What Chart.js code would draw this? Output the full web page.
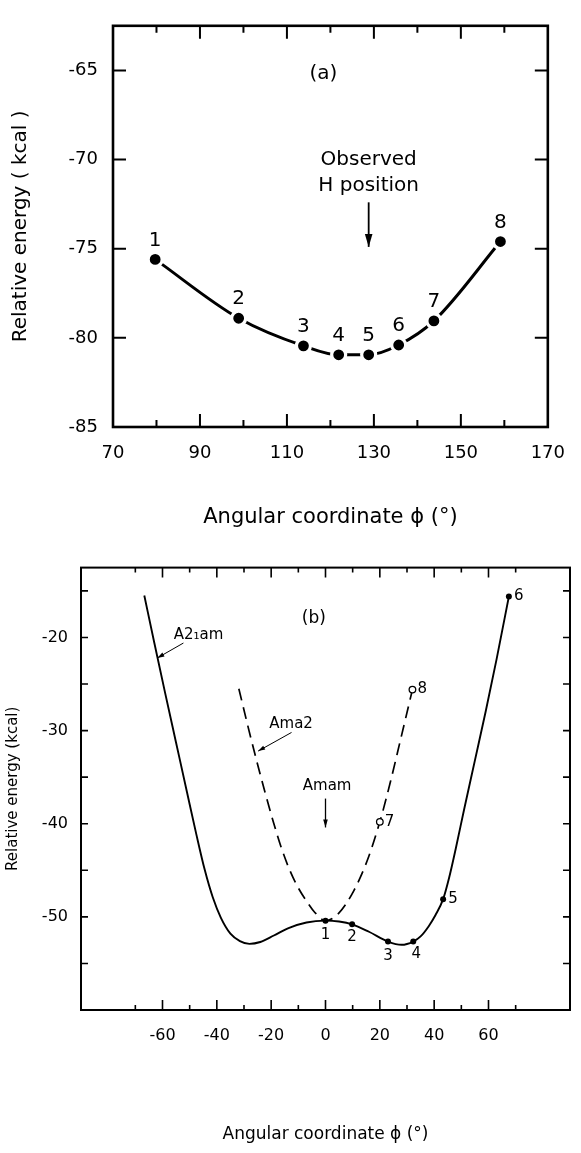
<!DOCTYPE html>
<html><head><meta charset="utf-8">
<script src="https://cdn.jsdelivr.net/npm/chart.js@4.4.0/dist/chart.umd.min.js"></script>
<style>
html,body{margin:0;padding:0;background:#fff;}
body{width:581px;height:1153px;position:relative;overflow:hidden;}
canvas{position:absolute;left:0;}
#ca{top:0;}
#cb{top:545px;}
</style></head><body>
<canvas id="ca" width="581" height="545"></canvas>
<canvas id="cb" width="581" height="608"></canvas>
<script>
// ---------- Panel (a) data ----------
const aPhi = [79.7, 98.9, 113.8, 121.9, 128.8, 135.7, 143.8, 159.1];
const aEnergy = [-75.6, -78.9, -80.45, -80.95, -80.95, -80.4, -79.05, -74.6];
const aPointLabels = ['1', '2', '3', '4', '5', '6', '7', '8'];
const aXTicks = [70, 90, 110, 130, 150, 170];
const aYTicks = [-85, -80, -75, -70, -65];
const aObservedPhi = 128.8;

// ---------- Panel (b) data ----------
const bSolidPhi = [-66.7, -63, -59, -55, -51, -47.5, -44.5, -41.5, -38.5, -35, -31.5, -28, -24, -19, -13.6, -7, 0, 5, 9.8, 16, 23, 28, 32.3, 35, 38, 40.5, 43.3, 45.5, 48, 51, 55, 59, 63, 67.5];
const bSolidEnergy = [-15.5, -20.6, -26.0, -31.3, -36.6, -41.2, -44.9, -47.9, -50.1, -51.8, -52.6, -52.9, -52.7, -52.0, -51.2, -50.6, -50.4, -50.5, -50.8, -51.6, -52.65, -53.0, -52.65, -52.1, -51.0, -49.8, -48.1, -45.8, -42.6, -38.5, -33.2, -27.9, -22.3, -15.6];
const bDashPhi = [-31.9, -28.5, -25.2, -22, -19, -16, -13, -10, -7, -4, 0, 4.9, 10.4, 15.3, 20, 23.9, 27.6, 32];
const bDashEnergy = [-25.5, -29.6, -33.4, -36.9, -40.0, -42.8, -45.1, -46.9, -48.3, -49.5, -50.4, -49.6, -47.2, -44.0, -39.8, -35.5, -31.0, -25.6];
const bPointPhi = [0, 9.8, 23, 32.3, 43.3, 67.5];
const bPointEnergy = [-50.43, -50.8, -52.65, -52.65, -48.1, -15.6];
const bPointLabels = ['1', '2', '3', '4', '5', '6'];
const bOpenPhi = [20, 32];
const bOpenEnergy = [-39.8, -25.6];
const bOpenLabels = ['7', '8'];
const bXTicks = [-60, -40, -20, 0, 20, 40, 60];
const bYTicks = [-50, -40, -30, -20];
const bAmamPhi = 0;

const FONT = "'DejaVu Sans', Lato, sans-serif";
const zip = (xs, ys) => xs.map((x, i) => ({x: x, y: ys[i]}));

function arrowHead(ctx, x1, y1, x2, y2, len, half) {
  const a = Math.atan2(y2 - y1, x2 - x1);
  ctx.beginPath();
  ctx.moveTo(x2, y2);
  ctx.lineTo(x2 - len * Math.cos(a) + half * Math.sin(a), y2 - len * Math.sin(a) - half * Math.cos(a));
  ctx.lineTo(x2 - len * Math.cos(a) - half * Math.sin(a), y2 - len * Math.sin(a) + half * Math.cos(a));
  ctx.closePath();
  ctx.fill();
}

const framePlugin = {
  id: 'frame',
  afterDraw(chart, args, o) {
    const {ctx, chartArea: ca} = chart;
    const xs = chart.scales.x, ys = chart.scales.y;
    ctx.save();
    ctx.strokeStyle = '#000';
    ctx.lineWidth = o.lineWidth;
    ctx.strokeRect(ca.left, ca.top, ca.right - ca.left, ca.bottom - ca.top);
    ctx.lineWidth = o.tickWidth;
    ctx.beginPath();
    o.xTicks.forEach(t => {
      const px = xs.getPixelForValue(t.v);
      ctx.moveTo(px, ca.bottom); ctx.lineTo(px, ca.bottom - t.len);
      ctx.moveTo(px, ca.top); ctx.lineTo(px, ca.top + t.len);
    });
    o.yTicks.forEach(t => {
      const py = ys.getPixelForValue(t.v);
      ctx.moveTo(ca.left, py); ctx.lineTo(ca.left + t.len, py);
      ctx.moveTo(ca.right, py); ctx.lineTo(ca.right - t.len, py);
    });
    ctx.stroke();
    ctx.restore();
  }
};

const notesPlugin = {
  id: 'notes',
  afterDraw(chart, args, o) {
    const {ctx} = chart;
    const xs = chart.scales.x, ys = chart.scales.y;
    ctx.save();
    ctx.fillStyle = '#000';
    ctx.strokeStyle = '#000';
    (o.texts || []).forEach(t => {
      ctx.font = t.font;
      ctx.textAlign = t.align || 'center';
      ctx.textBaseline = 'middle';
      ctx.fillText(t.text, xs.getPixelForValue(t.x) + (t.dx || 0), ys.getPixelForValue(t.y) + (t.dy || 0));
    });
    (o.arrows || []).forEach(a => {
      const x1 = xs.getPixelForValue(a.x1), y1 = ys.getPixelForValue(a.y1);
      const x2 = xs.getPixelForValue(a.x2), y2 = ys.getPixelForValue(a.y2);
      ctx.lineWidth = a.width;
      ctx.beginPath(); ctx.moveTo(x1, y1); ctx.lineTo(x2, y2); ctx.stroke();
      arrowHead(ctx, x1, y1, x2, y2, a.len, a.half);
    });
    ctx.restore();
  }
};

// ---------- Chart (a) ----------
const aTickMarks = [];
for (let v = 80; v <= 160; v += 10) aTickMarks.push({v: v, len: aXTicks.includes(v) ? 13 : 7});
const aFont = '20px ' + FONT;
new Chart(document.getElementById('ca'), {
  type: 'scatter',
  data: {
    datasets: [{
      data: zip(aPhi, aEnergy),
      showLine: true,
      borderColor: '#000',
      borderWidth: 3,
      cubicInterpolationMode: 'monotone',
      pointRadius: 7,
      pointBackgroundColor: '#000',
      pointBorderColor: '#fff',
      pointBorderWidth: 3.2
    }]
  },
  options: {
    responsive: false,
    animation: false,
    events: [],
    layout: {padding: {left: 0, right: 19, top: 14, bottom: 0}},
    plugins: {
      legend: {display: false},
      tooltip: {enabled: false},
      frame: {lineWidth: 2.6, tickWidth: 2, xTicks: aTickMarks, yTicks: aYTicks.slice(1).map(v => ({v: v, len: 13}))},
      notes: {
        texts: aPointLabels.map((l, i) => ({x: aPhi[i], y: aEnergy[i], dy: -19, text: l, font: aFont}))
          .concat([
            {x: 118.4, y: -65.2, text: '(a)', font: aFont},
            {x: aObservedPhi, y: -70.0, text: 'Observed', font: aFont},
            {x: aObservedPhi, y: -71.5, text: 'H position', font: aFont}
          ]),
        arrows: [{x1: aObservedPhi, y1: -72.4, x2: aObservedPhi, y2: -74.9, width: 1.8, len: 13, half: 3.8}]
      }
    },
    scales: {
      x: {
        type: 'linear', min: 70, max: 170,
        afterBuildTicks: s => { s.ticks = aXTicks.map(v => ({value: v})); },
        afterFit: s => { s.height = 118; },
        grid: {display: false, drawTicks: false},
        border: {display: false},
        ticks: {padding: 16, color: '#000', font: {family: FONT, size: 18}, callback: v => String(v), maxRotation: 0, autoSkip: false},
        title: {display: true, text: 'Angular coordinate \u03D5 (\u00B0)', color: '#000', font: {family: FONT, size: 21}, padding: {top: 0, bottom: 15}}
      },
      y: {
        type: 'linear', min: -85, max: -62.5,
        afterBuildTicks: s => { s.ticks = aYTicks.map(v => ({value: v})); },
        afterFit: s => { s.width = 113; },
        grid: {display: false, drawTicks: false},
        border: {display: false},
        ticks: {padding: 15, color: '#000', font: {family: FONT, size: 18}, callback: v => String(v), autoSkip: false},
        title: {display: true, text: 'Relative energy ( kcal )', color: '#000', font: {family: FONT, size: 20}, padding: {top: 9, bottom: 0}}
      }
    }
  },
  plugins: [framePlugin, notesPlugin]
});

// ---------- Chart (b) ----------
const bXMarks = [];
for (let v = -70; v <= 70; v += 10) bXMarks.push({v: v, len: bXTicks.includes(v) ? 10 : 5});
const bYMarks = [];
for (let v = -55; v <= -15; v += 5) bYMarks.push({v: v, len: 7});
const smallFont = '15px ' + FONT;
new Chart(document.getElementById('cb'), {
  type: 'scatter',
  data: {
    datasets: [
      {
        order: 2,
        data: zip(bSolidPhi, bSolidEnergy), showLine: true, borderColor: '#000', borderWidth: 1.9,
        cubicInterpolationMode: 'monotone', pointRadius: 0
      },
      {
        order: 2,
        data: zip(bDashPhi, bDashEnergy), showLine: true, borderColor: '#000', borderWidth: 1.7,
        borderDash: [12, 7], cubicInterpolationMode: 'monotone', pointRadius: 0
      },
      {
        order: 0,
        data: zip(bPointPhi, bPointEnergy), showLine: false, pointRadius: 3,
        pointBackgroundColor: '#000', pointBorderColor: '#000', pointBorderWidth: 0
      },
      {
        order: 0,
        data: zip(bOpenPhi, bOpenEnergy), showLine: false, pointRadius: 3.3,
        pointBackgroundColor: '#fff', pointBorderColor: '#000', pointBorderWidth: 1.3
      }
    ]
  },
  options: {
    responsive: false,
    animation: false,
    events: [],
    layout: {padding: {left: 0, right: 11, top: 21, bottom: 0}},
    plugins: {
      legend: {display: false},
      tooltip: {enabled: false},
      frame: {lineWidth: 2, tickWidth: 1.6, xTicks: bXMarks, yTicks: bYMarks},
      notes: {
        texts: [
          {x: bPointPhi[0], y: bPointEnergy[0], dy: 14, text: bPointLabels[0], font: smallFont},
          {x: bPointPhi[1], y: bPointEnergy[1], dy: 13, text: bPointLabels[1], font: smallFont},
          {x: bPointPhi[2], y: bPointEnergy[2], dy: 15, text: bPointLabels[2], font: smallFont},
          {x: bPointPhi[3], y: bPointEnergy[3], dx: 3, dy: 13, text: bPointLabels[3], font: smallFont},
          {x: bPointPhi[4], y: bPointEnergy[4], dx: 5, text: bPointLabels[4], font: smallFont, align: 'left'},
          {x: bPointPhi[5], y: bPointEnergy[5], dx: 5, text: bPointLabels[5], font: smallFont, align: 'left'},
          {x: bOpenPhi[0], y: bOpenEnergy[0], dx: 5, text: bOpenLabels[0], font: smallFont, align: 'left'},
          {x: bOpenPhi[1], y: bOpenEnergy[1], dx: 5, text: bOpenLabels[1], font: smallFont, align: 'left'},
          {x: -4.3, y: -18, text: '(b)', font: '17px ' + FONT},
          {x: -55.9, y: -19.7, text: 'A2\u2081am', font: smallFont, align: 'left'},
          {x: -20.7, y: -29.3, text: 'Ama2', font: smallFont, align: 'left'},
          {x: bAmamPhi + 0.6, y: -36.0, text: 'Amam', font: smallFont}
        ],
        arrows: [
          {x1: -52.3, y1: -20.6, x2: -61.9, y2: -22.2, width: 1, len: 7, half: 2.2},
          {x1: -12.5, y1: -30.2, x2: -24.8, y2: -32.2, width: 1, len: 7, half: 2.2},
          {x1: bAmamPhi, y1: -37.3, x2: bAmamPhi, y2: -40.4, width: 1.3, len: 8, half: 2.3}
        ]
      }
    },
    scales: {
      x: {
        type: 'linear', min: -90, max: 90,
        afterBuildTicks: s => { s.ticks = bXTicks.map(v => ({value: v})); },
        afterFit: s => { s.height = 143; },
        grid: {display: false, drawTicks: false},
        border: {display: false},
        ticks: {padding: 16, color: '#000', font: {family: FONT, size: 16}, callback: v => String(v), maxRotation: 0, autoSkip: false},
        title: {display: true, text: 'Angular coordinate \u03D5 (\u00B0)', color: '#000', font: {family: FONT, size: 17}, padding: {top: 0, bottom: 8}}
      },
      y: {
        type: 'linear', min: -60, max: -12.5,
        afterBuildTicks: s => { s.ticks = bYTicks.map(v => ({value: v})); },
        afterFit: s => { s.width = 81; },
        grid: {display: false, drawTicks: false},
        border: {display: false},
        ticks: {padding: 13, color: '#000', font: {family: FONT, size: 16}, callback: v => String(v), autoSkip: false},
        title: {display: true, text: 'Relative energy (kcal)', color: '#000', font: {family: FONT, size: 15}, padding: {top: 4, bottom: 0}}
      }
    }
  },
  plugins: [framePlugin, notesPlugin]
});
</script>
</body></html>
